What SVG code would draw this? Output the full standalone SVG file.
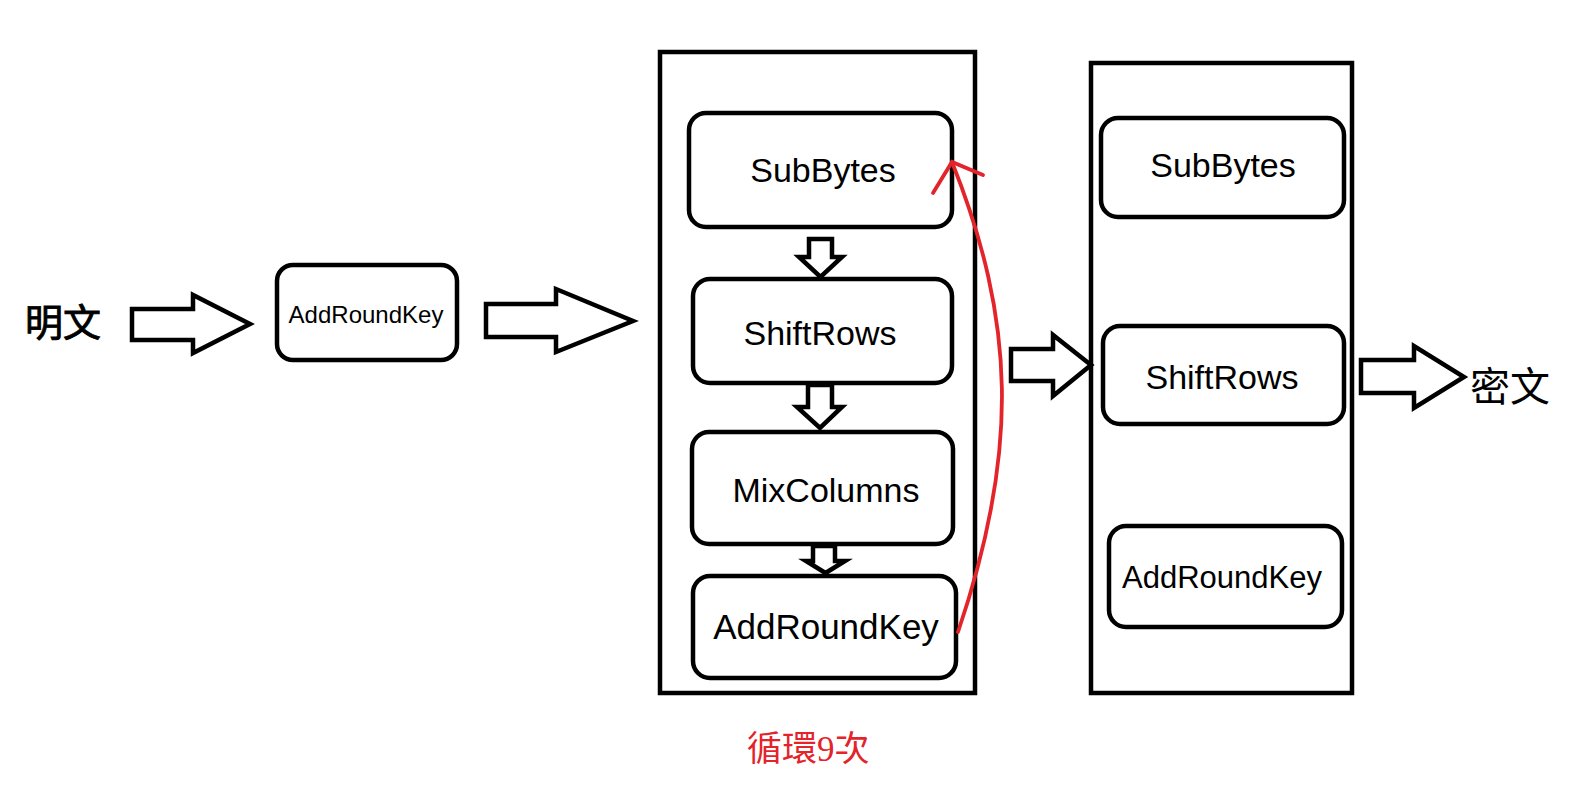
<svg xmlns="http://www.w3.org/2000/svg" width="1589" height="793" viewBox="0 0 1589 793">
<style>
.box{fill:#fff;stroke:#000;stroke-width:4.5}
.frame{fill:none;stroke:#000;stroke-width:4.5}
.blk{fill:#fff;stroke:#000;stroke-width:4.5;stroke-linejoin:miter}
.t{font-family:"Liberation Sans",Arial,sans-serif;fill:#000;text-anchor:middle}
.red{fill:none;stroke:#e3242b;stroke-width:3.8;stroke-linecap:round}
</style>
<rect width="1589" height="793" fill="#fff"/>
<g id="plaintext"><text x="25" y="336" font-family="'Noto Sans CJK SC',sans-serif" font-size="38" fill="#000" stroke="#000" stroke-width="0.9">明文</text></g>
<g id="ciphertext"><text x="1470" y="401" font-family="'Noto Sans CJK SC',sans-serif" font-size="40" fill="#000">密文</text></g>
<g id="loop-label"><text x="747" y="761" font-family="'Liberation Serif','Noto Sans CJK TC',serif" font-size="35" fill="#e3242b">循環9次</text></g>
<g id="round-frame"><rect class="frame" x="660" y="52" width="315" height="641"/></g>
<g id="final-frame"><rect class="frame" x="1091" y="63" width="261" height="630"/></g>
<g id="ak0"><rect class="box" x="277" y="265" width="180" height="95" rx="16"/><text class="t" x="366" y="323" font-size="24">AddRoundKey</text></g>
<g id="sb1"><rect class="box" x="689" y="113" width="263" height="114" rx="17"/><text class="t" x="823" y="182" font-size="34">SubBytes</text></g>
<g id="sr1"><rect class="box" x="693" y="279" width="259" height="104" rx="17"/><text class="t" x="820" y="345" font-size="34">ShiftRows</text></g>
<g id="mc1"><rect class="box" x="692" y="432" width="261" height="112" rx="17"/><text class="t" x="826" y="502" font-size="34">MixColumns</text></g>
<g id="ak1"><rect class="box" x="693" y="576" width="263" height="102" rx="17"/><text class="t" x="826" y="639" font-size="35">AddRoundKey</text></g>
<g id="sb2"><rect class="box" x="1101" y="118" width="243" height="99" rx="17"/><text class="t" x="1223" y="177" font-size="34">SubBytes</text></g>
<g id="sr2"><rect class="box" x="1103" y="326" width="241" height="98" rx="17"/><text class="t" x="1222" y="389" font-size="34">ShiftRows</text></g>
<g id="ak2"><rect class="box" x="1109" y="526" width="233" height="101" rx="17"/><text class="t" x="1222" y="588" font-size="31">AddRoundKey</text></g>
<g id="connectors">
<polygon class="blk" points="132,309 193,309 193,295 250,324 193,353 193,340 132,340"/>
<polygon class="blk" points="486,304 556,304 556,289 633,321 556,352 556,337 486,337"/>
<polygon class="blk" points="1011,349 1053,349 1053,335 1091,365 1053,396 1053,381 1011,381"/>
<polygon class="blk" points="1361,360 1414,360 1414,346 1464,377 1414,408 1414,393 1361,393"/>
<polygon class="blk" points="809,239 832,239 832,257 842,257 820.5,277 799,257 809,257"/>
<polygon class="blk" points="808,385 832,385 832,407 842,407 820,428 797,407 808,407"/>
<polygon class="blk" points="813,546 835,546 835,561 845,561 825.5,573 806,561 813,561"/>
<path class="red" d="M958,632 C1020,450 1015,320 952,162"/>
<path class="red" d="M933,193 L952,162 L983,175"/>
</g>
</svg>
